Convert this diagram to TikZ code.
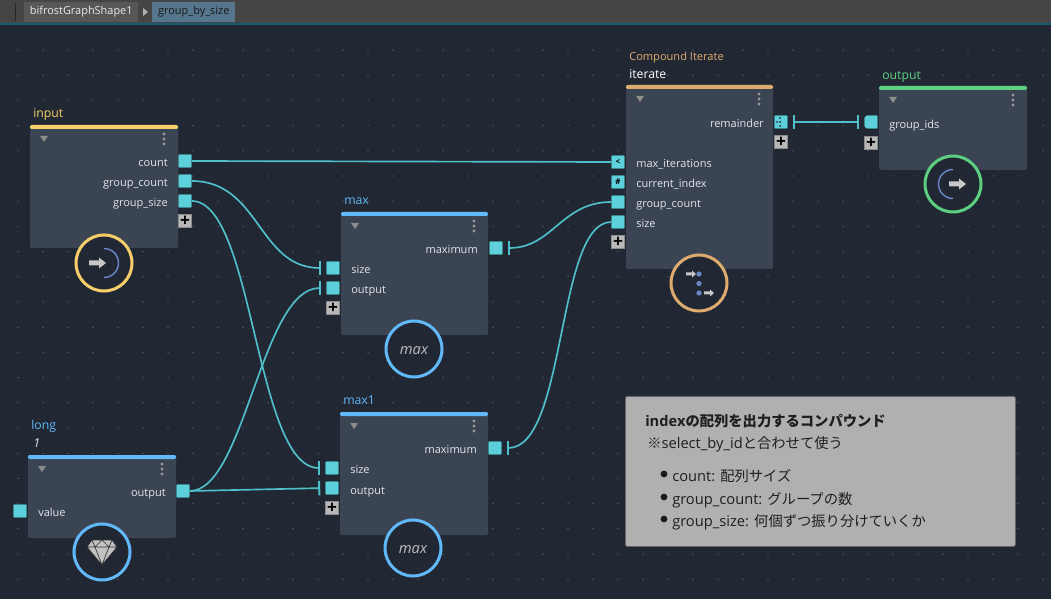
\documentclass[tikz,border=0pt]{standalone}
\usepackage{fontspec}
\setmainfont{Open Sans}
\newfontfamily\cjk[Scale=0.975]{Noto Sans CJK JP}
\usetikzlibrary{arrows.meta}
\definecolor{bgcol}{HTML}{212833}
\definecolor{bodycol}{HTML}{3B4453}
\definecolor{portcol}{HTML}{5DD0DB}
\definecolor{wirecol}{HTML}{4FBFC9}
\definecolor{inyel}{HTML}{F6CF6B}
\definecolor{itorange}{HTML}{DDAB6D}
\definecolor{outgreen}{HTML}{5CCF80}
\definecolor{valblue}{HTML}{62B9F9}
\definecolor{iconblue}{HTML}{6A86C8}
\definecolor{labelcol}{HTML}{E2E6EA}
\tikzset{
  gbody/.style 2 args={fill=bodycol,rounded corners=1.5pt,anchor=north west,inner sep=0,outer sep=0,
    minimum width=#1*.75pt,minimum height=#2*.75pt},
  port/.style={fill=portcol,draw=portcol!60!black,line width=.4pt,minimum size=9.8pt,inner sep=0,
    rounded corners=.6pt,font=\fontsize{6}{6}\selectfont\bfseries,text=black},
  plus/.style={fill=black!28,draw=black!45,line width=.3pt,minimum size=9.8pt,inner sep=0,
    font=\fontsize{13}{13}\selectfont\bfseries,text=black},
  portlabel/.style={text=labelcol,font=\fontsize{8.25}{10}\selectfont,inner sep=0,text height=8.5pt,text depth=2pt},
  title/.style={anchor=west,font=\fontsize{9.2}{11}\selectfont,inner sep=0,text height=8.5pt,text depth=2pt},
  ring/.style={circle,fill=bgcol,draw=#1,line width=2.25pt,minimum size=42pt,inner sep=0,
    font=\fontsize{11}{11}\selectfont\itshape,text=black!25,text height=8.5pt,text depth=0pt},
  wire/.style={draw=wirecol,line width=1.25pt},
  teeend/.style={-{Bar[width=11pt,line width=1.5pt]},shorten >=3.75pt},
  teestart/.style={{Bar[width=11pt,line width=1.5pt]}-,shorten <=3.75pt},
  teeboth/.style={{Bar[width=11pt,line width=1.5pt]}-{Bar[width=11pt,line width=1.5pt]},shorten <=3.75pt,shorten >=3.75pt},
  tab/.style={anchor=west,inner sep=0,minimum height=15pt,font=\fontsize{8.2}{10}\selectfont},
  notetext/.style={anchor=west,inner sep=0,text=black!88,font=\fontsize{11}{13}\selectfont,text height=11pt,text depth=2.5pt},
  iconfill/.style={fill=black!22}
}
\newcommand{\grapharrow}[2]{\fill[iconfill,shift={(#1,#2)}] (0,-2.5) -- (10,-2.5) -- (10,-5.5) -- (17,0) -- (10,5.5) -- (10,2.5) -- (0,2.5) -- cycle;}
\newcommand{\smallarrow}[2]{\fill[iconfill,shift={(#1,#2)}] (0,-1.5) -- (6,-1.5) -- (6,-3.5) -- (10,0) -- (6,3.5) -- (6,1.5) -- (0,1.5) -- cycle;}
\begin{document}
\begin{tikzpicture}[x=.75pt,y=-.75pt]
  \fill[bgcol] (0,0) rectangle (1051,599);
  \useasboundingbox (0,0) rectangle (1051,599);
  \foreach \i in {0,...,41}
    \foreach \j in {0,...,21}
      \fill[white!38!bgcol] (18+25*\i,50+25.2*\j) circle[radius=.6];
  \fill[black!73] (0,0) rectangle (1051,23);
  \fill[black!85] (15,3) rectangle (16,21);
  \fill[black!0!blue!30!cyan!40!black!90] (0,23) rectangle (1051,25);
  \node[tab,fill=black!66,text=black!8,minimum width=85.5pt] (tabgraph) at (24,12) {bifrostGraphShape1};
  \fill[black!30] (143,8) -- (148,12) -- (143,16) -- cycle;
  \node[tab,fill=valblue!45!black!80,text=black!90,minimum width=62.25pt] (tabgroup) at (152,12) {group\_by\_size};

  \node[gbody={148}{123}] (input) at (30,125) {};
  \node[gbody={148}{83}] (long) at (28,455) {};
  \node[gbody={147}{123}] (max) at (341,212) {};
  \node[gbody={148}{123}] (maxb) at (340,412) {};
  \node[gbody={147}{184}] (iterate) at (626,85) {};
  \node[gbody={148}{84}] (output) at (879,86) {};
  \foreach \n/\c in {input/inyel,long/valblue,max/valblue,maxb/valblue,iterate/itorange,output/outgreen} {
    \fill[\c,rounded corners=1pt] (\n.north west) rectangle ([yshift=-3pt]\n.north east);
    \fill[black!45] ([shift={(10,11)}]\n.north west) -- ++(8,0) -- ++(-4,6) -- cycle;
    \foreach \k in {-5,0,5}
      \fill[black!40] ([shift={(-14,14+\k)}]\n.north east) circle[radius=1.6];
  }

  \node[title,text=inyel] (inputtitle) at (33,113) {input};
  \node[title,text=valblue] (longtitle) at (31,425) {long};
  \node[title,text=labelcol,font=\fontsize{9.2}{11}\selectfont\itshape] (longvalue) at (33,443) {1};
  \node[title,text=valblue] (maxtitle) at (344,200) {max};
  \node[title,text=valblue] (maxbtitle) at (343,400) {max1};
  \node[title,text=itorange,font=\fontsize{8.3}{10}\selectfont] (itertype) at (629,56) {Compound Iterate};
  \node[title,text=white] (itertitle) at (629,74) {iterate};
  \node[title,text=outgreen] (outputtitle) at (882,75) {output};

  \node[port] (incount) at (185,161) {};
  \node[port] (ingroupc) at (185,181) {};
  \node[port] (ingroups) at (185,201) {};
  \node[plus] (inplus) at (185,221) {+};
  \node[portlabel,anchor=east] (incountl) at (168,162) {count};
  \node[portlabel,anchor=east] (ingroupcl) at (168,182) {group\_count};
  \node[portlabel,anchor=east] (ingroupsl) at (168,202) {group\_size};

  \node[port] (longout) at (183,491) {};
  \node[port] (longval) at (20,511) {};
  \node[portlabel,anchor=east] (longoutl) at (166,492) {output};
  \node[portlabel,anchor=west] (longvall) at (38,512) {value};

  \node[port] (maxres) at (496,248) {};
  \node[port] (maxsize) at (333,268) {};
  \node[port] (maxout) at (333,288) {};
  \node[plus] (maxplus) at (333,308) {+};
  \node[portlabel,anchor=east] (maxresl) at (478,249) {maximum};
  \node[portlabel,anchor=west] (maxsizel) at (351,269) {size};
  \node[portlabel,anchor=west] (maxoutl) at (351,289) {output};

  \node[port] (maxbres) at (495,448) {};
  \node[port] (maxbsize) at (332,468) {};
  \node[port] (maxbout) at (332,488) {};
  \node[plus] (maxbplus) at (332,508) {+};
  \node[portlabel,anchor=east] (maxbresl) at (477,449) {maximum};
  \node[portlabel,anchor=west] (maxbsizel) at (350,469) {size};
  \node[portlabel,anchor=west] (maxboutl) at (350,490) {output};

  \node[port] (iterrem) at (781,122) {};
  \node[plus] (iterplusr) at (781,142) {+};
  \node[port] (itermax) at (618,162) {<};
  \node[port] (itercur) at (618,182) {\#};
  \node[port] (itergroup) at (618,202) {};
  \node[port] (itersize) at (618,222) {};
  \node[plus] (iterplus) at (618,242) {+};
  \node[portlabel,anchor=east] (iterreml) at (764,123) {remainder};
  \node[portlabel,anchor=west] (itermaxl) at (636,163) {max\_iterations};
  \node[portlabel,anchor=west] (itercurl) at (636,183) {current\_index};
  \node[portlabel,anchor=west] (itergroupl) at (636,203) {group\_count};
  \node[portlabel,anchor=west] (itersizel) at (636,223) {size};
  \foreach \dx/\dy in {-1/-4,-1/0,-1/4,-4/0}
    \fill[black!85] ([shift={(\dx,\dy)}]iterrem.center) circle[radius=1];

  \node[port] (outids) at (871,122) {};
  \node[plus] (outplus) at (871,143) {+};
  \node[portlabel,anchor=west] (outidsl) at (889,124) {group\_ids};
  \fill[bgcol] (outids.north west) -- ++(2.5,0) -- ++(-2.5,2.5) -- cycle;
  \fill[bgcol] (outids.south west) -- ++(2.5,0) -- ++(-2.5,-2.5) -- cycle;

  \begin{scope}[wire]
    \draw[-] (incount.east) to (itermax.west);
    \draw[teeend] (ingroupc.east) .. controls +(68,0) and +(-68,0) .. (maxsize.west);
    \draw[teeend] (ingroups.east) .. controls +(62,0) and +(-70,0) .. (maxbsize.west);
    \draw[teeend] (longout.east) .. controls +(55,0) and +(-65,0) .. (maxout.west);
    \draw[teeend] (longout.east) to (maxbout.west);
    \draw[teestart] (maxres.east) .. controls +(50,0) and +(-50,0) .. (itergroup.west);
    \draw[teestart] (maxbres.east) .. controls +(65,0) and +(-55,0) .. (itersize.west);
    \draw[teeboth] (iterrem.east) to (outids.west);
  \end{scope}

  \node[ring=inyel] (inputicon) at (104,263) {};
  \node[ring=valblue] (longicon) at (102,552) {};
  \node[ring=valblue] (maxicon) at (414,349) {max};
  \node[ring=valblue] (maxbicon) at (413,548) {max};
  \node[ring=itorange] (itericon) at (699,283) {};
  \node[ring=outgreen] (outputicon) at (953,184) {};

  \grapharrow{89}{263}
  \draw[iconblue,line width=1.1pt] (104,248.5) arc[start angle=-90,end angle=90,radius=14.5];
  \grapharrow{949}{184}
  \draw[iconblue,line width=1.1pt] (953,169.5) arc[start angle=-90,end angle=-270,radius=14.5];
  \smallarrow{686}{274}
  \smallarrow{704}{293}
  \foreach \y in {274,283.5,293}
    \fill[iconblue] (699,\y) circle[radius=2.6];
  \fill[black!24] (92,540) -- (112,540) -- (117,547) -- (102,565) -- (87,547) -- cycle;
  \draw[black!80,line width=.5pt,line join=round] (92,540) -- (112,540) -- (117,547) -- (102,565) -- (87,547) -- cycle
    (87,547) -- (117,547) (92,540) -- (95,547) -- (102,540) -- (109,547) -- (112,540)
    (95,547) -- (102,565) -- (109,547);

  \node[fill=black!31,draw=black!60,line width=.6pt,rounded corners=1.5pt,anchor=north west,inner sep=0,
    minimum width=292.5pt,minimum height=112.5pt] (note) at (625,396) {};
  \node[notetext,font=\fontsize{11}{13}\selectfont\bfseries] (notehead) at (645,421) {index{\cjk の配列を出力するコンパウンド}};
  \node[notetext] (notesub) at (647,443) {{\cjk ※}select\_by\_id{\cjk と合わせて使う}};
  \node[notetext] (notecount) at (672,476) {count: {\cjk 配列サイズ}};
  \node[notetext] (notegroupc) at (672,499) {group\_count: {\cjk グループの数}};
  \node[notetext] (notegroups) at (672,521) {group\_size: {\cjk 何個ずつ振り分けていくか}};
  \foreach \n in {notecount,notegroupc,notegroups}
    \fill[black!90] ([shift={(-8,-2)}]\n.west) circle[radius=3.4];
\end{tikzpicture}
\end{document}
